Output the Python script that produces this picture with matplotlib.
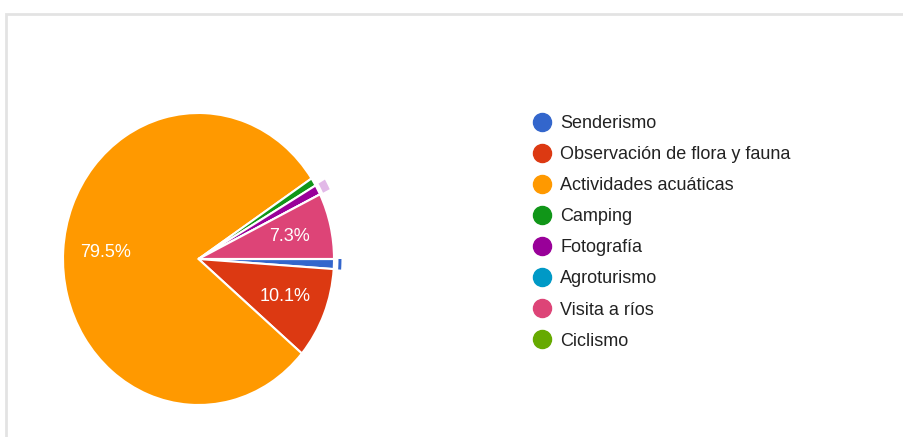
import matplotlib.pyplot as plt
from matplotlib.lines import Line2D
from matplotlib.patches import Wedge, Rectangle
import numpy as np

# datos (porcentajes)
categorias = ["Senderismo", "Observación de flora y fauna", "Actividades acuáticas",
              "Camping", "Fotografía", "Agroturismo", "Visita a ríos", "Ciclismo"]
valores = [1.1, 10.1, 79.5, 0.9, 1.1, 0.0, 7.3, 0.0]
colores = ["#3366cc", "#dc3912", "#ff9900", "#109618",
           "#990099", "#0099c6", "#dd4477", "#66aa00"]

plt.rcParams["font.family"] = ["Liberation Sans", "DejaVu Sans"]

W, H = 904, 437
fig = plt.figure(figsize=(W / 100, H / 100), dpi=100)

# marco gris del fondo
fig.add_artist(Rectangle((6 / W, -0.2), 1.2, 1.2 - 13.5 / H,
                         transform=fig.transFigure, facecolor="none",
                         edgecolor="#e3e3e3", linewidth=2))

# eje del pie (ligeramente elíptico como la captura)
cx, cy = 198.5, H - 259
rx, ry = 135.5, 146
lim = 1.2
ax = fig.add_axes([(cx - rx * lim) / W, (cy - ry * lim) / H,
                   2 * rx * lim / W, 2 * ry * lim / H])

ax.pie(valores, colors=colores, startangle=0, counterclock=False,
       wedgeprops=dict(edgecolor="white", linewidth=1.5),
       autopct=lambda p: f"{p:.1f}%" if p > 5 else "",
       pctdistance=0.69,
       textprops=dict(color="white", fontsize=13))
ax.set_aspect("auto")
ax.set_xlim(-lim, lim)
ax.set_ylim(-lim, lim)
ax.axis("off")

# anillos de resaltado (Senderismo y Fotografía)
cum = np.concatenate([[0], np.cumsum(valores)]) / np.sum(valores) * 360
i = 0
ax.add_patch(Wedge((0, 0), 1.055, -cum[i + 1], -cum[i], width=0.022,
                   facecolor=colores[i], edgecolor="none"))
i = 4
ax.add_patch(Wedge((0, 0), 1.08, -cum[i + 1], -cum[i], width=0.055,
                   facecolor="#e2b9e8", edgecolor="none"))

# leyenda
handles = [Line2D([], [], linestyle="none", marker="o", markersize=13,
                  markerfacecolor=c, markeredgecolor=c) for c in colores]
leg = fig.legend(handles, categorias, loc="upper left",
                 bbox_to_anchor=(522 / W, 1 - 106 / H), frameon=False,
                 fontsize=13, handletextpad=0.42, labelspacing=0.78,
                 handlelength=1.2, borderpad=0)
for t in leg.get_texts():
    t.set_color("#222222")

fig.savefig("out.png", dpi=100)
